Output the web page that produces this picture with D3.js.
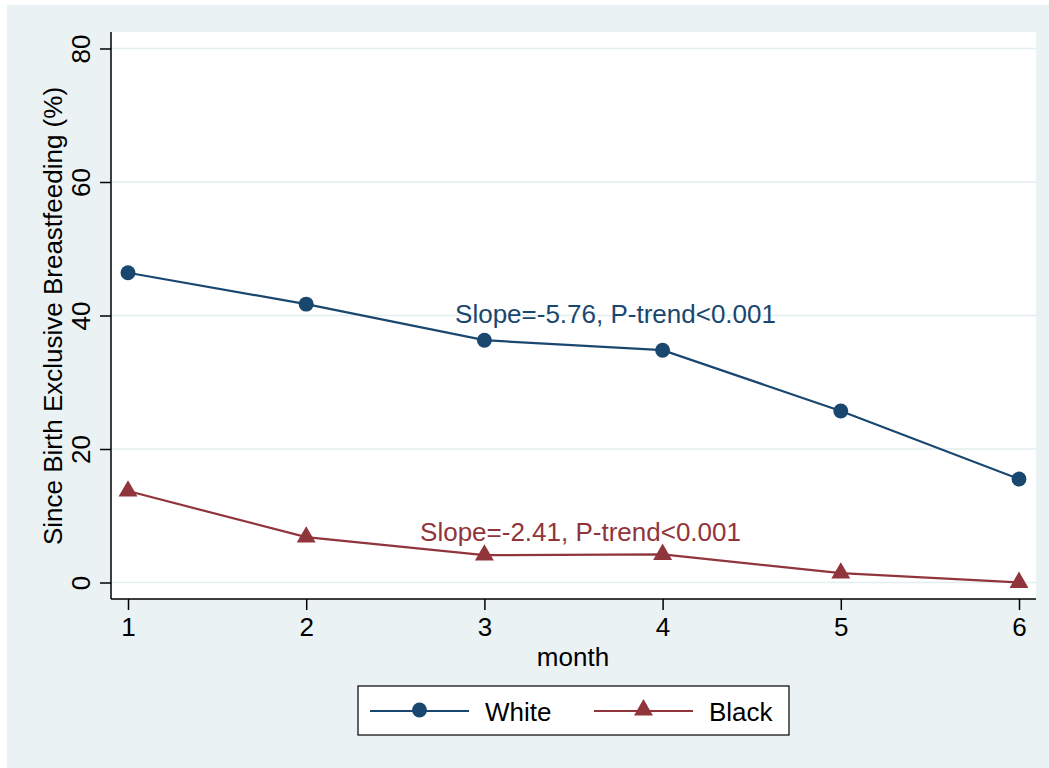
<!DOCTYPE html>
<html>
<head>
<meta charset="utf-8">
<script src="https://cdn.jsdelivr.net/npm/d3@7"></script>
<style>
  body { margin: 0; background: #fff; }
  text { font-family: Arial, "Liberation Sans", sans-serif; }
</style>
</head>
<body>
<svg id="chart" width="1049" height="768"></svg>
<script>
// chart values
const months = [1, 2, 3, 4, 5, 6];
const whiteValues = [46.4, 41.7, 36.3, 34.8, 25.7, 15.5];
const blackValues = [13.7, 6.8, 4.1, 4.2, 1.4, 0.0];
const yTicks = [0, 20, 40, 60, 80];
const seriesNames = ["White", "Black"];
const slopeLabels = ["Slope=-5.76, P-trend<0.001", "Slope=-2.41, P-trend<0.001"];

const navy = "#1a476f", maroon = "#90353b", bg = "#eaf2f3";
const fontSize = 26;

let svg = d3.select("#chart");

// outer graph region
svg.append("rect").attr("x", 7).attr("y", 5).attr("width", 1042).attr("height", 763)
    .attr("fill", bg);

// plot region
let plot = { left: 111, top: 32, right: 1036, bottom: 599 };
svg.append("rect").attr("x", plot.left).attr("y", plot.top)
    .attr("width", plot.right - plot.left).attr("height", plot.bottom - plot.top)
    .attr("fill", "#fff");

let x = d3.scaleLinear().domain([1, 6]).range([128, 1019]);
let y = d3.scaleLinear().domain([0, 80]).range([582.5, 48.5]);

// gridlines
svg.append("g").selectAll("line").data(yTicks).join("line")
    .attr("x1", plot.left).attr("x2", plot.right)
    .attr("y1", d => y(d)).attr("y2", d => y(d))
    .attr("stroke", "#e4eef0").attr("stroke-width", 1.5);

// axes
let yAxis = svg.append("g").attr("transform", `translate(${plot.left},0)`)
    .call(d3.axisLeft(y).tickValues(yTicks).tickSize(11));
yAxis.select(".domain").attr("d", `M0,${plot.top}V${plot.bottom}`).attr("stroke", "#000").attr("stroke-width", 1.5);
yAxis.selectAll(".tick line").attr("stroke", "#000").attr("stroke-width", 1.5);
// labels rotated about their own tick
yAxis.selectAll(".tick text")
    .attr("font-size", fontSize).attr("fill", "#000")
    .attr("transform", "translate(-21,0) rotate(-90)")
    .attr("x", 0).attr("y", 0).attr("dy", 0)
    .attr("text-anchor", "middle");

let xAxis = svg.append("g").attr("transform", `translate(0,${plot.bottom})`)
    .call(d3.axisBottom(x).tickValues(months).tickFormat(d3.format("d")).tickSize(11).tickPadding(8));
xAxis.select(".domain").attr("d", `M${plot.left},0H${plot.right}`).attr("stroke", "#000").attr("stroke-width", 1.5);
xAxis.selectAll(".tick line").attr("stroke", "#000").attr("stroke-width", 1.5);
xAxis.selectAll(".tick text").attr("font-size", fontSize).attr("fill", "#000");

// axis titles
svg.append("text").attr("transform", "translate(62,316) rotate(-90)")
    .attr("text-anchor", "middle").attr("font-size", fontSize).attr("fill", "#000")
    .text("Since Birth Exclusive Breastfeeding (%)");
svg.append("text").attr("x", 573).attr("y", 666)
    .attr("text-anchor", "middle").attr("font-size", fontSize).attr("fill", "#000")
    .text("month");

// series
let series = [
  { name: seriesNames[0], values: whiteValues, color: navy, symbol: d3.symbolCircle, size: 175 },
  { name: seriesNames[1], values: blackValues, color: maroon, symbol: d3.symbolTriangle, size: 155 }
];

let line = d3.line().x((d, i) => x(months[i])).y(d => y(d));

for (let s of series)
{
  svg.append("path").datum(s.values).attr("d", line)
      .attr("fill", "none").attr("stroke", s.color).attr("stroke-width", 2.2);
  svg.append("g").selectAll("path").data(s.values).join("path")
      .attr("transform", (d, i) => `translate(${x(months[i])},${y(d)})`)
      .attr("d", d3.symbol().type(s.symbol).size(s.size))
      .attr("fill", s.color);
}

// slope annotations
svg.append("text").attr("x", 615.5).attr("y", 323).attr("text-anchor", "middle")
    .attr("font-size", fontSize).attr("fill", navy).text(slopeLabels[0]);
svg.append("text").attr("x", 580.5).attr("y", 541).attr("text-anchor", "middle")
    .attr("font-size", fontSize).attr("fill", maroon).text(slopeLabels[1]);

// legend
svg.append("rect").attr("x", 358).attr("y", 686).attr("width", 431).attr("height", 49)
    .attr("fill", "#fff").attr("stroke", "#000").attr("stroke-width", 1.2);
let legendX = [370, 594];
series.forEach((s, i) => {
  let lx = legendX[i];
  svg.append("line").attr("x1", lx).attr("x2", lx + 99).attr("y1", 711).attr("y2", 711)
      .attr("stroke", s.color).attr("stroke-width", 2);
  svg.append("path").attr("transform", `translate(${lx + 49.5},710)`)
      .attr("d", d3.symbol().type(s.symbol).size(s.size))
      .attr("fill", s.color);
  svg.append("text").attr("x", lx + 115).attr("y", 721)
      .attr("font-size", fontSize).attr("fill", "#000").text(s.name);
});
</script>
</body>
</html>
